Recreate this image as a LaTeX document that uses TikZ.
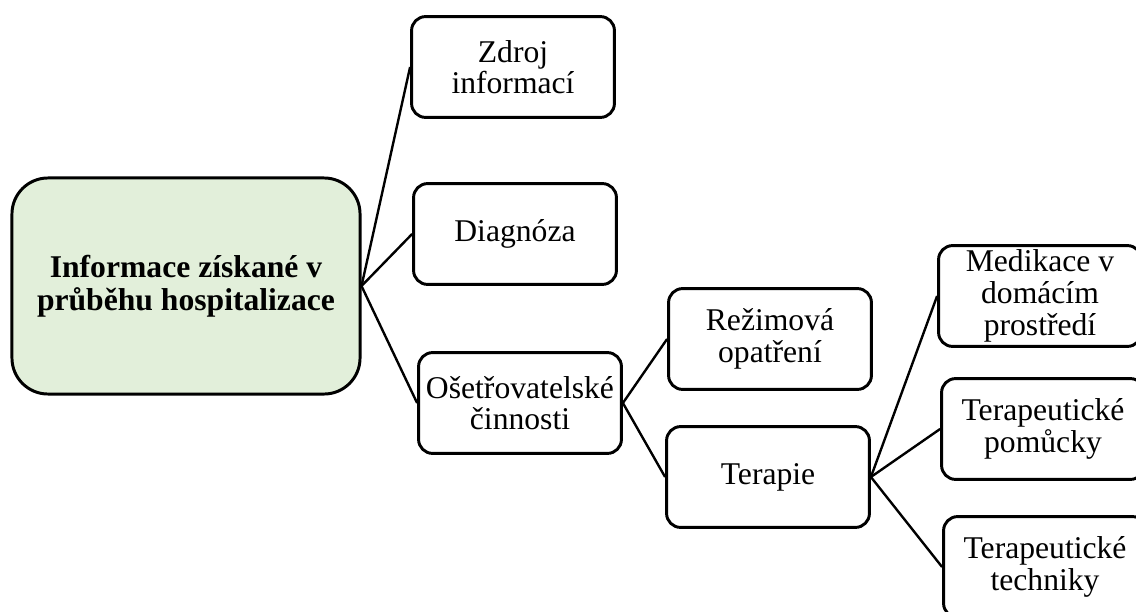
\documentclass[tikz,border=0pt]{standalone}
\usepackage{fontspec}
\setmainfont{Liberation Serif}
\definecolor{rootgreen}{HTML}{E2EFDA}

\begin{document}
\begin{tikzpicture}[
  x=0.025cm, y=-0.025cm,
  topic/.style={draw, line width=2.1pt, rounded corners=0.35cm,
                minimum width=5.07cm, minimum height=2.52cm, inner sep=1pt,
                align=center, font=\fontsize{22.5}{22.5}\selectfont},
  root/.style={topic, rounded corners=0.9cm, minimum width=8.7cm,
               minimum height=5.4cm, fill=rootgreen,
               font=\fontsize{22.5}{23.5}\selectfont\bfseries},
  link/.style={line width=1.7pt}
]
\useasboundingbox (0,0) rectangle (1136,611);
\clip (0,0) rectangle (1136,611);
\node[root] (info) at (186,286) {Informace získané v\\průběhu hospitalizace};
\node[topic] (zdroj) at (513,67) {Zdroj\\informací};
\node[topic] (diag) at (515,234) {Diagnóza};
\node[topic] (oset) at (520,403) {Ošetřovatelské\\činnosti};
\node[topic] (rezim) at (770,339) {Režimová\\opatření};
\node[topic] (terapie) at (768,477) {Terapie};
\node[topic] (medik) at (1040,296) {Medikace v\\domácím\\prostředí};
\node[topic] (pomucky) at (1043,429) {Terapeutické\\pomůcky};
\node[topic] (techniky) at (1045,567) {Terapeutické\\techniky};
\draw[link] (info.east) -- (zdroj.west);
\draw[link] (info.east) -- (diag.west);
\draw[link] (info.east) -- (oset.west);
\draw[link] (oset.east) -- (rezim.west);
\draw[link] (oset.east) -- (terapie.west);
\draw[link] (terapie.east) -- (medik.west);
\draw[link] (terapie.east) -- (pomucky.west);
\draw[link] (terapie.east) -- (techniky.west);
\end{tikzpicture}
\end{document}
